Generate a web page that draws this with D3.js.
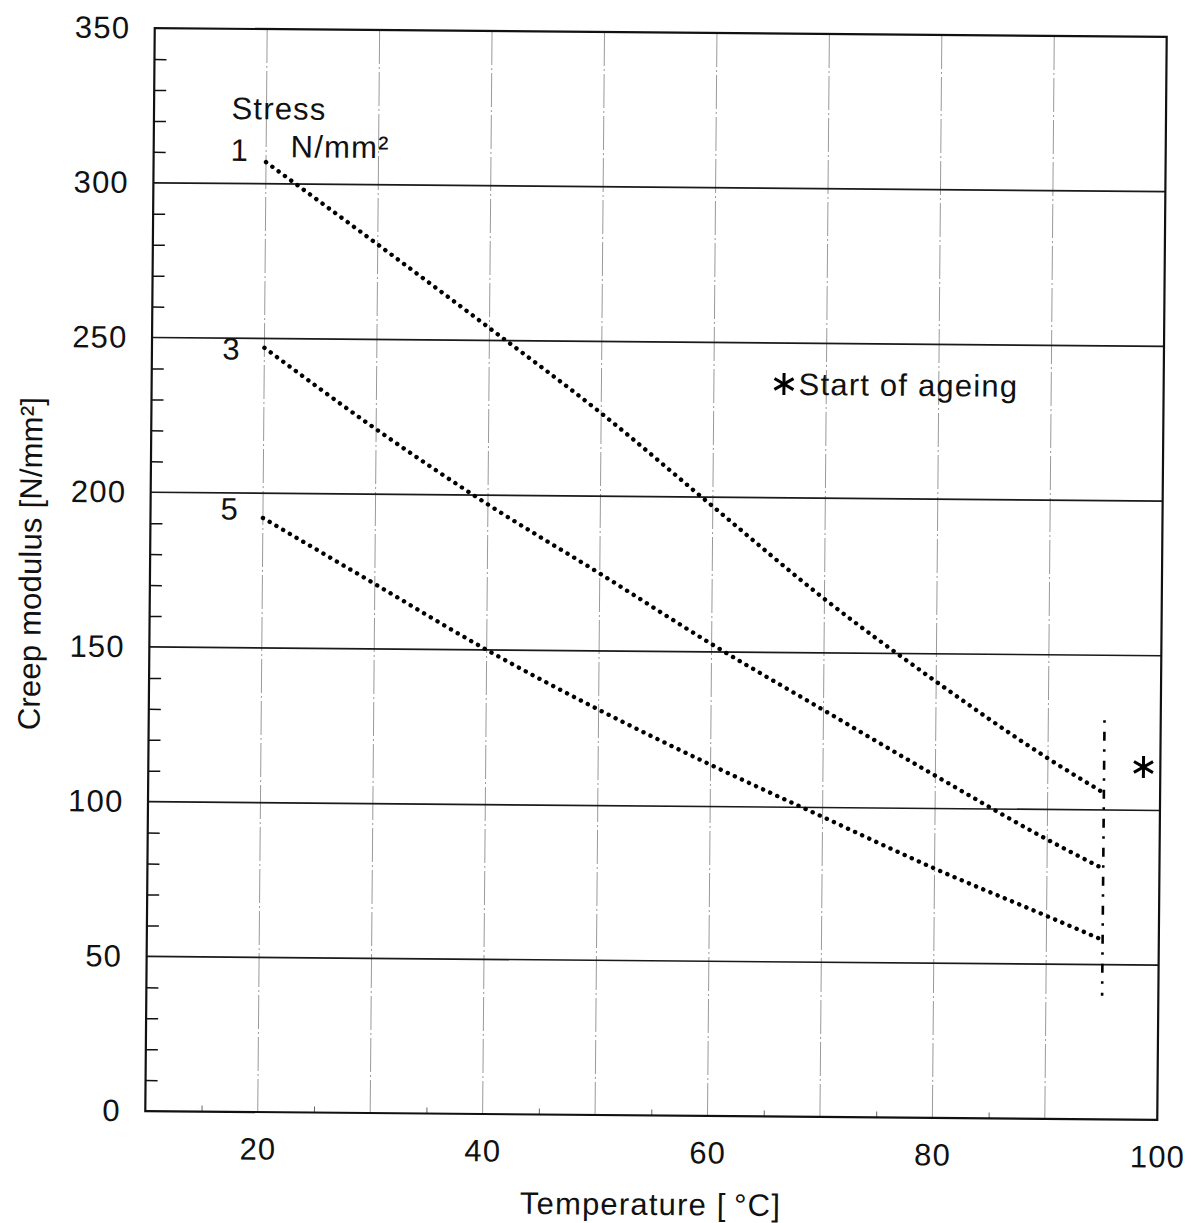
<!DOCTYPE html>
<html>
<head>
<meta charset="utf-8">
<script src="https://cdn.jsdelivr.net/npm/d3@7/dist/d3.min.js"></script>
<style>
  html, body { margin: 0; padding: 0; background: #fff; }
  svg { display: block; }
  text { font-family: "Liberation Sans", Arial, Helvetica, sans-serif; fill: #111; }
</style>
</head>
<body>
<svg id="chart" width="1197" height="1223"></svg>
<script>
// Creep modulus versus temperature at three stress levels
const temperatures   = [20, 30, 40, 50, 60, 70, 80, 90, 95];
const stressLevels   = ["1", "3", "5"];
const modulusStress1 = [307, 280.7, 254, 226.8, 197, 167.4, 141, 116.5, 105.5];
const modulusStress3 = [247, 221, 197, 175, 152.5, 131.5, 110.6, 90.3, 81];
const modulusStress5 = [192, 171, 150, 131, 113.5, 97, 80.6, 65.6, 58];
const xTickValues    = [20, 40, 60, 80, 100];
const yTickValues    = [0, 50, 100, 150, 200, 250, 300, 350];
const ageingTemp     = 95;          // start of ageing
const ageingSpan     = [40, 129];   // vertical extent of the ageing marker line
const ageingStar     = [98.5, 114]; // asterisk next to the marker line

const plotLeft = 150, plotTop = 32.5, plotW = 1012, plotH = 1083;
const FS = 31;

const svg = d3.select("#chart");
const root = svg.append("g").attr("transform", "rotate(0.5, 656, 574)");

const x = d3.scaleLinear().domain([10, 100]).range([plotLeft, plotLeft + plotW]);
const y = d3.scaleLinear().domain([0, 350]).range([plotTop + plotH, plotTop]);

// vertical grid (light, broken)
root.append("g").selectAll("line")
  .data(d3.range(20, 100, 10))
  .join("line")
  .attr("x1", d => x(d)).attr("x2", d => x(d))
  .attr("y1", y(350)).attr("y2", y(0))
  .attr("stroke", "#999").attr("stroke-width", 1)
  .attr("stroke-dasharray", "34,3,2,3");

// horizontal grid
root.append("g").selectAll("line")
  .data(d3.range(50, 350, 50))
  .join("line")
  .attr("x1", x(10)).attr("x2", x(100))
  .attr("y1", d => y(d)).attr("y2", d => y(d))
  .attr("stroke", "#1a1a1a").attr("stroke-width", 1.7);

// minor ticks on the value axis (inside)
const yMinor = d3.range(10, 350, 10).filter(v => v % 50 !== 0);
root.append("g")
  .attr("transform", `translate(${plotLeft},0)`)
  .call(d3.axisLeft(y).tickValues(yMinor).tickSize(-12).tickFormat(""))
  .call(g => g.select(".domain").remove())
  .call(g => g.selectAll("line").attr("stroke", "#111").attr("stroke-width", 1.5));

// minor ticks on the temperature axis (inside)
root.append("g")
  .attr("transform", `translate(0,${plotTop + plotH})`)
  .call(d3.axisBottom(x).tickValues(d3.range(15, 90, 10)).tickSize(-6).tickFormat(""))
  .call(g => g.select(".domain").remove())
  .call(g => g.selectAll("line").attr("stroke", "#666").attr("stroke-width", 1));

// frame
root.append("rect")
  .attr("x", plotLeft).attr("y", plotTop).attr("width", plotW).attr("height", plotH)
  .attr("fill", "none").attr("stroke", "#111").attr("stroke-width", 2.2);

// tick labels
root.append("g")
  .attr("transform", `translate(${plotLeft},0)`)
  .call(d3.axisLeft(y).tickValues(yTickValues).tickSize(0).tickPadding(24.5).tickFormat(d3.format("d")))
  .call(g => g.select(".domain").remove())
  .call(g => g.selectAll("text")
    .attr("font-size", FS).attr("letter-spacing", 1.2)
    .attr("font-family", "Liberation Sans, Arial, sans-serif").attr("fill", "#111"));

root.append("g")
  .attr("transform", `translate(0,${plotTop + plotH})`)
  .call(d3.axisBottom(x).tickValues(xTickValues).tickSize(0).tickPadding(25.5).tickFormat(d3.format("d")))
  .call(g => g.select(".domain").remove())
  .call(g => g.selectAll("text")
    .attr("font-size", FS).attr("letter-spacing", 1.2)
    .attr("font-family", "Liberation Sans, Arial, sans-serif").attr("fill", "#111"));

// axis titles
root.append("text")
  .attr("transform", "translate(41,569) rotate(-90)")
  .attr("text-anchor", "middle").attr("font-size", FS).attr("letter-spacing", 0.2)
  .text("Creep modulus [N/mm²]");

root.append("text")
  .attr("x", x(55)).attr("y", 1215)
  .attr("text-anchor", "middle").attr("font-size", FS).attr("letter-spacing", 1.2)
  .text("Temperature [\u2009°C]");

// dotted creep curves
const series = [modulusStress1, modulusStress3, modulusStress5].map((vals, i) => ({
  name: stressLevels[i],
  points: temperatures.map((t, j) => ({ t, v: vals[j] }))
}));

const line = d3.line()
  .x(d => x(d.t)).y(d => y(d.v))
  .curve(d3.curveMonotoneX);

root.append("g").selectAll("path")
  .data(series)
  .join("path")
  .attr("d", d => line(d.points))
  .attr("fill", "none").attr("stroke", "#000")
  .attr("stroke-width", 4.4).attr("stroke-linecap", "round")
  .attr("stroke-dasharray", "0.1,7.7");

// stress labels beside each curve start
const labelDx = { "1": -35.5, "3": -42, "5": -42.5 };
const labelDy = { "1": -1, "3": 12, "5": 2 };
root.append("g").selectAll("text")
  .data(series)
  .join("text")
  .attr("x", d => x(d.points[0].t) + labelDx[d.name])
  .attr("y", d => y(d.points[0].v) + labelDy[d.name])
  .attr("font-size", FS)
  .text(d => d.name);

root.append("text")
  .attr("x", 227.5).attr("y", 122.7)
  .attr("font-size", FS).attr("letter-spacing", 1.2)
  .text("Stress");

root.append("text")
  .attr("x", 287).attr("y", 160.5)
  .attr("font-size", FS).attr("letter-spacing", 1.2)
  .text("N/mm²");

// start-of-ageing marker line
root.append("line")
  .attr("x1", x(ageingTemp)).attr("x2", x(ageingTemp))
  .attr("y1", y(ageingSpan[1])).attr("y2", y(ageingSpan[0]))
  .attr("stroke", "#000").attr("stroke-width", 2.6)
  .attr("stroke-dasharray", "2.5,9,9,8.5");

function asterisk(g, cx, cy, r) {
  const a = g.append("g").attr("transform", `translate(${cx},${cy})`);
  [90, 30, -30].forEach(deg => {
    const rad = deg * Math.PI / 180;
    a.append("line")
      .attr("x1", -r * Math.cos(rad)).attr("y1", -r * Math.sin(rad))
      .attr("x2", r * Math.cos(rad)).attr("y2", r * Math.sin(rad))
      .attr("stroke", "#000").attr("stroke-width", 3);
  });
}

asterisk(root, x(ageingStar[0]), y(ageingStar[1]), 11);
asterisk(root, 782.3, 382.9, 11);

root.append("text")
  .attr("x", 797).attr("y", 393.7)
  .attr("font-size", FS).attr("letter-spacing", 1.2)
  .text("Start of ageing");
</script>
</body>
</html>
